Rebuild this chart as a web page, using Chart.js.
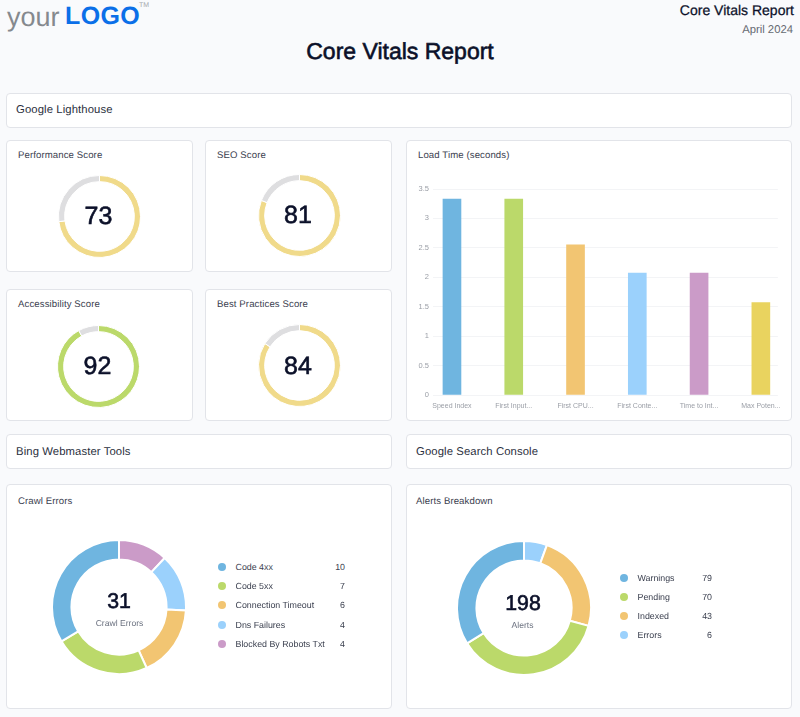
<!DOCTYPE html>
<html>
<head>
<meta charset="utf-8">
<title>Core Vitals Report</title>
<script src="https://cdn.jsdelivr.net/npm/chart.js@4"></script>
<style>
  html, body { margin: 0; padding: 0; }
  body { width: 800px; height: 717px; position: relative; overflow: hidden; background: #f9fafc;
         font-family: "Liberation Sans", Arial, sans-serif; color: #2b3040; text-rendering: geometricPrecision; }
  .abs, .card, canvas { position: absolute; }
  .card { background: #fff; border: 1px solid #e2e4e9; border-radius: 4px; box-sizing: border-box; }
  .section { font-size: 11.3px; letter-spacing: .1px; line-height: 14px; color: #2b3040; }
  .card-title { font-size: 9.6px; letter-spacing: .1px; line-height: 12px; color: #3c4150; }
  .big { transform: translate(-50%, -50%); color: #0b1029; font-size: 25px; line-height: 28px;
         -webkit-text-stroke: .6px #0b1029; }
  .total { font-size: 21.3px; }
  .sub { transform: translate(-50%, -50%); color: #6c7280; font-size: 8.6px; line-height: 12px; white-space: nowrap; }
  .legend-row { position: absolute; height: 12px; font-size: 8.85px; line-height: 12px; color: #3c4150; }
  .legend-row i { position: absolute; left: 0; top: 2px; width: 8px; height: 8px; border-radius: 50%; }
  .legend-row span { position: absolute; white-space: nowrap; }
</style>
</head>
<body>

<div class="abs" style="left:7px;top:0;font-size:27px;line-height:34px;color:#85898e;">your</div>
<div class="abs" style="left:65px;top:-1px;font-size:25px;line-height:34px;font-weight:bold;color:#0b6fe8;letter-spacing:.4px;">LOGO</div>
<div class="abs" style="left:139px;top:2px;font-size:7px;line-height:8px;color:#a5a8ad;">TM</div>

<div class="abs" style="left:0;width:800px;top:38px;text-align:center;font-size:23px;line-height:26px;color:#0b1029;-webkit-text-stroke:.6px #0b1029;">Core Vitals Report</div>
<div class="abs" style="right:6px;top:2px;font-size:14px;line-height:16px;color:#0b1029;-webkit-text-stroke:.25px #0b1029;">Core Vitals Report</div>
<div class="abs" style="right:7px;top:23px;font-size:11.3px;line-height:14px;color:#666a72;">April 2024</div>

<div class="card" style="left:6px;top:93px;width:786px;height:35px;"></div>
<div class="abs section" style="left:16px;top:103px;">Google Lighthouse</div>

<div class="card" style="left:6px;top:140px;width:187px;height:132px;"></div>
<div class="card" style="left:205px;top:140px;width:187px;height:132px;"></div>
<div class="card" style="left:6px;top:289px;width:187px;height:132px;"></div>
<div class="card" style="left:205px;top:289px;width:187px;height:132px;"></div>
<div class="card" style="left:406px;top:140px;width:386px;height:281px;"></div>

<div class="card" style="left:6px;top:434px;width:386px;height:35px;"></div>
<div class="abs section" style="left:16px;top:445px;">Bing Webmaster Tools</div>
<div class="card" style="left:406px;top:434px;width:386px;height:35px;"></div>
<div class="abs section" style="left:416px;top:445px;">Google Search Console</div>

<div class="card" style="left:6px;top:484px;width:386px;height:225px;"></div>
<div class="card" style="left:406px;top:484px;width:386px;height:225px;"></div>

<div class="abs card-title" style="left:18px;top:150px;" id="t0"></div>
<div class="abs card-title" style="left:217px;top:150px;" id="t1"></div>
<div class="abs card-title" style="left:18px;top:299px;" id="t2"></div>
<div class="abs card-title" style="left:217px;top:299px;" id="t3"></div>
<div class="abs card-title" style="left:418px;top:150px;">Load Time (seconds)</div>
<div class="abs card-title" style="left:18px;top:495.5px;">Crawl Errors</div>
<div class="abs card-title" style="left:416px;top:495.5px;">Alerts Breakdown</div>

<canvas id="g0" width="83" height="83" style="left:57.5px;top:174.5px;"></canvas>
<canvas id="g1" width="83" height="83" style="left:257.5px;top:173.5px;"></canvas>
<canvas id="g2" width="83" height="83" style="left:56.5px;top:324.5px;"></canvas>
<canvas id="g3" width="83" height="83" style="left:257.5px;top:324px;"></canvas>
<div class="abs big" id="n0" style="left:98.5px;top:216px;"></div>
<div class="abs big" id="n1" style="left:298px;top:215px;"></div>
<div class="abs big" id="n2" style="left:97.5px;top:366px;"></div>
<div class="abs big" id="n3" style="left:298px;top:366px;"></div>

<canvas id="load-chart" width="378" height="235" style="left:410px;top:180px;"></canvas>

<canvas id="crawl-chart" width="136" height="136" style="left:51px;top:539px;"></canvas>
<div class="abs big total" id="crawl-total" style="left:119px;top:601px;"></div>
<div class="abs sub" style="left:119.5px;top:622.5px;">Crawl Errors</div>
<div id="crawl-legend"></div>

<canvas id="alerts-chart" width="136" height="136" style="left:456px;top:540px;"></canvas>
<div class="abs big total" id="alerts-total" style="left:523px;top:603px;"></div>
<div class="abs sub" style="left:522.5px;top:624.5px;">Alerts</div>
<div id="alerts-legend"></div>

<script>
const gaugeTitles = ["Performance Score", "SEO Score", "Accessibility Score", "Best Practices Score"];
const gaugeValues = [73, 81, 92, 84];

const loadLabels = ["Speed Index", "First Input...", "First CPU...", "First Conte...", "Time to Int...", "Max Poten..."];
const loadValues = [3.33, 3.33, 2.55, 2.07, 2.07, 1.57];
const loadTicks = [0, 0.5, 1, 1.5, 2, 2.5, 3, 3.5];

const crawlLabels = ["Code 4xx", "Code 5xx", "Connection Timeout", "Dns Failures", "Blocked By Robots Txt"];
const crawlValues = [10, 7, 6, 4, 4];
// ring sizes as drawn in the report, they don't follow the printed numbers exactly
const crawlArcs = [10.4, 7.2, 5.4, 4.3, 3.7];

const alertLabels = ["Warnings", "Pending", "Indexed", "Errors"];
const alertValues = [79, 70, 43, 6];
const alertArcs = [67, 73, 47, 11];

const BLUE = "#6fb5e0", GREEN = "#bbd96a", ORANGE = "#f2c572", SKY = "#9bd1fc", PURPLE = "#cb9bc8", YELLOW = "#e9d35f";
const SLICE_COLORS = [BLUE, GREEN, ORANGE, SKY, PURPLE];
const BAR_COLORS = [BLUE, GREEN, ORANGE, SKY, PURPLE, YELLOW];
const GAUGE_COLORS = ["#f0da8a", "#f0da8a", GREEN, "#f0da8a"];
const GAUGE_REST = "#dedee0";

Chart.defaults.animation = false;
Chart.defaults.responsive = false;
Chart.defaults.font.family = '"Liberation Sans", Arial, sans-serif';
Chart.defaults.plugins.legend.display = false;
Chart.defaults.plugins.tooltip.enabled = false;

function renderGauge(i) {
  document.getElementById("t" + i).textContent = gaugeTitles[i];
  document.getElementById("n" + i).textContent = gaugeValues[i];
  new Chart(document.getElementById("g" + i), {
    type: "doughnut",
    data: {
      datasets: [{
        data: [gaugeValues[i], 100 - gaugeValues[i]],
        backgroundColor: [GAUGE_COLORS[i], GAUGE_REST],
        borderColor: "#fff",
        borderWidth: 1,
      }],
    },
    options: { cutout: "85%" },
  });
}

// the ring runs counter-clockwise from 12 o'clock, so feed it reversed
function renderRing(id, arcs) {
  new Chart(document.getElementById(id), {
    type: "doughnut",
    data: {
      datasets: [{
        data: [...arcs].reverse(),
        backgroundColor: SLICE_COLORS.slice(0, arcs.length).reverse(),
        borderColor: "#fff",
        borderWidth: 2,
      }],
    },
    options: { cutout: "71%" },
  });
}

function renderLegend(id, labels, values, left, top, valueRight) {
  const box = document.getElementById(id);
  box.innerHTML = labels.map((label, i) => `
    <div class="legend-row" style="left:${left}px;top:${top + i * 19.2}px;width:${valueRight - left}px;">
      <i style="background:${SLICE_COLORS[i]}"></i>
      <span style="left:17.5px">${label}</span>
      <span style="right:0">${values[i]}</span>
    </div>
  `).join("");
}

function renderLoadChart() {
  const canvas = document.getElementById("load-chart");
  canvas.getContext("2d").textRendering = "geometricPrecision";
  new Chart(canvas, {
    type: "bar",
    data: {
      datasets: [{
        data: loadValues.map((v, i) => ({ x: i, y: v })),
        backgroundColor: BAR_COLORS,
        barThickness: 18,
      }],
    },
    options: {
      layout: { padding: { top: 9, right: 10, left: 0, bottom: 0 } },
      scales: {
        x: {
          type: "linear",
          offset: false,
          min: -0.307,
          max: 5.275,
          grid: { display: false, drawTicks: false },
          border: { display: false },
          afterFit: (s) => { s.height = 20; },
          ticks: {
            stepSize: 1,
            includeBounds: false,
            autoSkip: false,
            maxRotation: 0,
            padding: 7,
            color: "#9a9ea6",
            font: { size: 7 },
            callback: (v) => loadLabels[v],
          },
        },
        y: {
          min: 0,
          max: 3.5,
          grid: { color: "#f3f4f6", drawTicks: false },
          border: { display: false },
          afterFit: (s) => { s.width = 23; },
          afterBuildTicks: (s) => { s.ticks = loadTicks.map((value) => ({ value })); },
          ticks: {
            padding: 4,
            color: "#9a9ea6",
            font: { size: 7.5 },
            callback: (v) => String(v),
          },
        },
      },
    },
  });
}

gaugeValues.forEach((_, i) => renderGauge(i));
renderLoadChart();
renderRing("crawl-chart", crawlArcs);
renderRing("alerts-chart", alertArcs);
document.getElementById("crawl-total").textContent = crawlValues.reduce((a, b) => a + b, 0);
document.getElementById("alerts-total").textContent = alertValues.reduce((a, b) => a + b, 0);
renderLegend("crawl-legend", crawlLabels, crawlValues, 218, 561, 345);
renderLegend("alerts-legend", alertLabels, alertValues, 620, 571.5, 712);
</script>
</body>
</html>
